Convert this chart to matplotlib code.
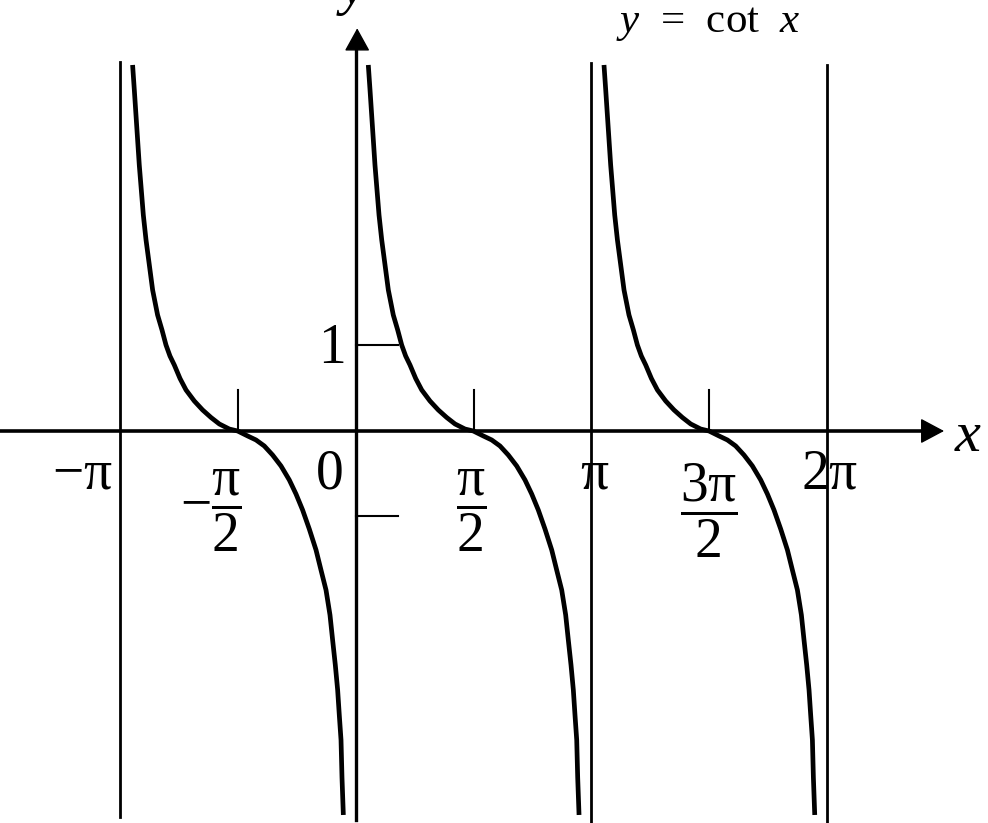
import numpy as np
import matplotlib
matplotlib.use("Agg")
import matplotlib.pyplot as plt

plt.rcParams['mathtext.fontset'] = 'custom'
plt.rcParams['mathtext.rm'] = 'Liberation Serif'
plt.rcParams['mathtext.it'] = 'Liberation Serif:italic'
plt.rcParams['mathtext.default'] = 'rm'
plt.rcParams['font.family'] = ['Liberation Serif', 'DejaVu Serif']

PI = np.pi
period_x = [0.168, 0.191, 0.213, 0.235, 0.257, 0.284, 0.311, 0.347, 0.391, 0.435,
            0.501, 0.560, 0.613, 0.666, 0.724, 0.800, 0.880, 0.990, 1.101, 1.213,
            1.324, 1.457, 1.568, 1.701, 1.813, 1.923, 2.034, 2.146, 2.257, 2.346,
            2.434, 2.523, 2.613, 2.679, 2.746, 2.799, 2.834, 2.870, 2.901, 2.923,
            2.946, 2.959, 2.977]
period_y = [4.281, 3.988, 3.696, 3.404, 3.111, 2.819, 2.526, 2.234, 1.942, 1.649,
            1.357, 1.181, 1.006, 0.877, 0.772, 0.614, 0.480, 0.351, 0.246, 0.158,
            0.082, 0.023, 0.0, -0.058, -0.105, -0.175, -0.281, -0.409, -0.573, -0.737,
            -0.924, -1.146, -1.392, -1.626, -1.860, -2.152, -2.444, -2.737, -3.029, -3.322,
            -3.614, -4.053, -4.491]
branch_starts = [-PI, 0.0, PI]
asymptotes = [-PI, PI, 2 * PI]
asym_top = [4.31, 4.30, 4.28]
asym_bottom = [-4.52, -4.60, -4.60]

x_tick_pos = [-PI / 2, PI / 2, 3 * PI / 2]
y_tick_pos = [1, -1]

x_labels = [
    (-PI, r'$-\pi$'),
    (0.0, '0'),
    (PI, r'$\pi$'),
    (2 * PI, r'$2\pi$'),
]
frac_labels = [
    (-PI / 2, r'$-\dfrac{\pi}{2}$'),
    (PI / 2, r'$\dfrac{\pi}{2}$'),
    (3 * PI / 2, r'$\dfrac{3\pi}{2}$'),
]

fig = plt.figure(figsize=(9.88, 8.23), dpi=100)
ax = fig.add_axes([0, 0, 1, 1])
ax.set_xlim(-4.741, 8.428)
ax.set_ylim(-4.585, 5.041)
ax.axis('off')

# curve branches
px = np.array(period_x)
py = np.array(period_y)
for s in branch_starts:
    ax.plot(px + s, py, color='black', lw=3.4, solid_capstyle='butt',
            solid_joinstyle='round')

# asymptotes
for a, t, b in zip(asymptotes, asym_top, asym_bottom):
    ax.plot([a, a], [b, t], color='black', lw=2.0)

# axes
ax.plot([-4.741, 7.70], [0, 0], color='black', lw=2.6)
ax.plot([0, 0], [-4.55, 4.55], color='black', lw=2.4)
ax.annotate('', xy=(7.842, 0), xytext=(7.5, 0),
            arrowprops=dict(arrowstyle='-|>,head_length=1.5,head_width=0.8',
                            mutation_scale=10, lw=1, color='black',
                            shrinkA=0, shrinkB=0))
ax.annotate('', xy=(0.02, 4.71), xytext=(0.02, 4.3),
            arrowprops=dict(arrowstyle='-|>,head_length=1.45,head_width=0.8',
                            mutation_scale=10, lw=1, color='black',
                            shrinkA=0, shrinkB=0))

# ticks
for t in x_tick_pos:
    ax.plot([t, t], [0, 0.48], color='black', lw=1.5)
for t in y_tick_pos:
    ax.plot([0, 0.564], [t, t], color='black', lw=1.5)

fs = 40
offsets = {-PI: -0.50, 0.0: -0.34, PI: 0.04, 2 * PI: 0.03}
for xv, lab in x_labels:
    ax.text(xv + offsets[xv], -0.667, lab, ha='center', va='baseline', fontsize=fs)
frac_off = {-PI / 2: -0.36, PI / 2: -0.03, 3 * PI / 2: 0.0}
for xv, lab in frac_labels:
    ax.text(xv + frac_off[xv], -0.93, lab, ha='center', va='center', fontsize=fs)

ax.text(-0.316, 0.795, '1', ha='center', va='baseline', fontsize=fs)
ax.text(8.16, -0.07, r'$\mathit{x}$', ha='center', va='center', fontsize=42)
ax.text(-0.05, 4.99, r'$\mathit{y}$', ha='center', va='baseline', fontsize=40)
ax.text(4.70, 4.667, r'$\mathit{y}$  =  cot  $\mathit{x}$', ha='center', va='baseline',
        fontsize=31)

fig.savefig('out.png', dpi=100)
